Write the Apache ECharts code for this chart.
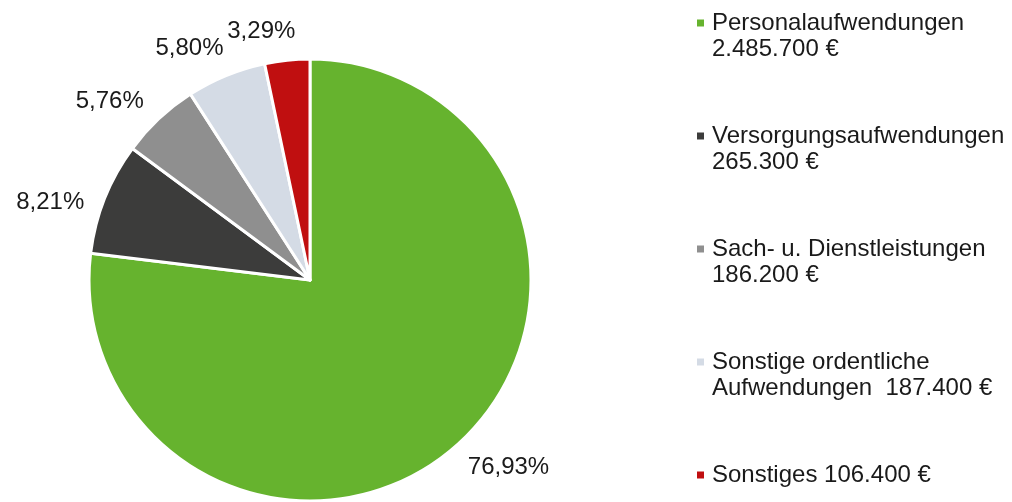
<!DOCTYPE html>
<html>
<head>
<meta charset="utf-8">
<script src="https://cdn.jsdelivr.net/npm/echarts@6/dist/echarts.min.js"></script>
<style>
html,body{margin:0;padding:0;background:#fff;}
#chart{width:1012px;height:502px;}
</style>
</head>
<body>
<div id="chart"></div>
<script>
const categories = ['Personalaufwendungen', 'Versorgungsaufwendungen', 'Sach- u. Dienstleistungen', 'Sonstige ordentliche Aufwendungen', 'Sonstiges'];
const values = [2485700, 265300, 186200, 187400, 106400];
const legendLines = [
  ['Personalaufwendungen', '2.485.700 €'],
  ['Versorgungsaufwendungen', '265.300 €'],
  ['Sach- u. Dienstleistungen', '186.200 €'],
  ['Sonstige ordentliche', 'Aufwendungen  187.400 €'],
  ['Sonstiges 106.400 €']
];
const colors = ['#66B32E', '#3C3C3B', '#8F8F8F', '#D4DBE5', '#C00F10'];

const FONT = 'Arial, "Liberation Sans", sans-serif';
const FS = 24;
const CX = 310, CY = 280, R = 221;

const total = values.reduce((a, b) => a + b, 0);
const midAngles = [];
let acc = 0;
values.forEach(v => { midAngles.push((acc + v / 2) / total * 2 * Math.PI); acc += v; });

const rich = {
  sp: { width: 15, height: 7 },
  t: { fontSize: FS, fontFamily: FONT, color: '#1a1a1a', lineHeight: 26, verticalAlign: 'middle' }
};
colors.forEach((c, i) => {
  rich['m' + i] = { width: 7, height: 7, backgroundColor: c, verticalAlign: 'middle' };
  rich['g' + i] = { width: 8, height: 7 };
});

const chart = echarts.init(document.getElementById('chart'));
chart.setOption({
  animation: false,
  color: colors,
  legend: {
    orient: 'vertical',
    left: 687,
    top: 5,
    icon: 'none',
    itemWidth: 0,
    itemHeight: 0,
    itemGap: 61,
    selectedMode: false,
    formatter: function (name) {
      const i = categories.indexOf(name);
      const lines = legendLines[i];
      let s = '{m' + i + '|}{g' + i + '|}{t|' + lines[0] + '}';
      for (let k = 1; k < lines.length; k++) s += '\n{sp|}{t|' + lines[k] + '}';
      return s;
    },
    textStyle: { rich: rich, lineHeight: 26, fontSize: FS, fontFamily: FONT }
  },
  series: [{
    type: 'pie',
    center: [CX, CY],
    radius: R,
    startAngle: 90,
    clockwise: true,
    avoidLabelOverlap: false,
    itemStyle: { borderColor: '#fff', borderWidth: 3 },
    label: {
      show: true,
      position: 'outside',
      fontSize: FS,
      fontFamily: FONT,
      color: '#1a1a1a',
      formatter: function (p) { return (p.value / total * 100).toFixed(2).replace('.', ',') + '%'; }
    },
    labelLine: { show: false },
    labelLayout: function (params) {
      const a = midAngles[params.dataIndex] - 0.09;
      const dx = Math.sin(a), dy = -Math.cos(a);
      const w = params.labelRect.width, h = params.labelRect.height;
      const d = R + 14 + Math.abs(dx) * w / 2 + Math.abs(dy) * h / 2;
      return { x: CX + dx * d, y: CY + dy * d, align: 'center', verticalAlign: 'middle' };
    },
    data: categories.map((c, i) => ({ name: c, value: values[i] }))
  }]
});
</script>
</body>
</html>
